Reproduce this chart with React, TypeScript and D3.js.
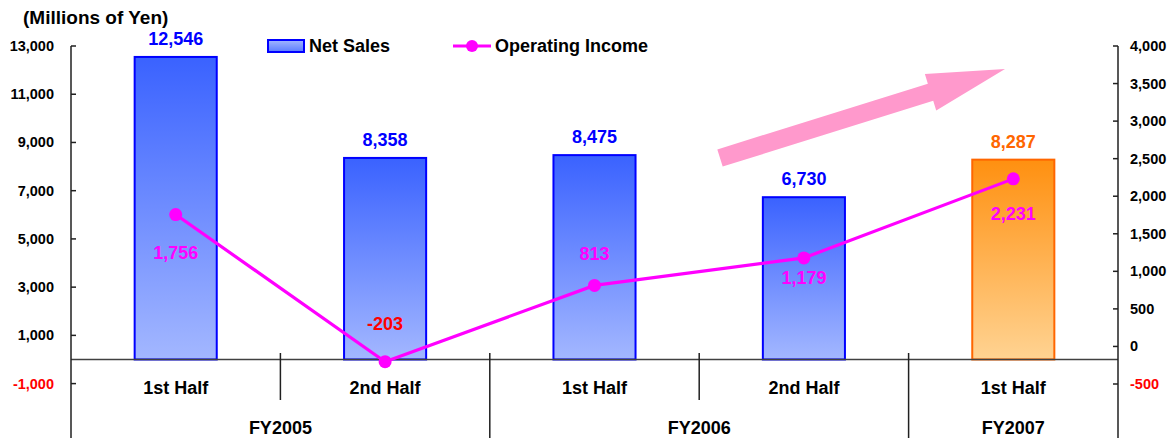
import React from "react";
import * as d3 from "d3";

const categories = ["1st Half", "2nd Half", "1st Half", "2nd Half", "1st Half"];
const fiscalYears = [
  { label: "FY2005", from: 0, to: 1 },
  { label: "FY2006", from: 2, to: 3 },
  { label: "FY2007", from: 4, to: 4 },
];
const netSales = [12546, 8358, 8475, 6730, 8287];
const operatingIncome = [1756, -203, 813, 1179, 2231];
const leftTicks = [-1000, 1000, 3000, 5000, 7000, 9000, 11000, 13000];
const rightTicks = [-500, 0, 500, 1000, 1500, 2000, 2500, 3000, 3500, 4000];

const W = 1173;
const H = 438;
const FONT = "'Liberation Sans', Arial, sans-serif";

export default function App() {
  const left = 71;
  const right = 1118;
  const top = 46;
  const bottom = 438;

  const x = d3
    .scaleBand<number>()
    .domain(d3.range(categories.length))
    .range([left, right])
    .paddingInner(0.608)
    .paddingOuter(0.304);
  const step = x.step();
  const yL = d3.scaleLinear().domain([-1000, 13000]).range([383.6, 46]);
  const yR = d3.scaleLinear().domain([-500, 4000]).range([384, 46]);
  const f0 = d3.format(",");
  const fmt = (v: number) => f0(v).replace("\u2212", "-");
  const cx = (i: number) => (x(i) as number) + x.bandwidth() / 2;
  const zeroY = yL(0);

  const line = d3
    .line<number>()
    .x((_, i) => cx(i))
    .y((d) => yR(d));

  // label offsets (relative to point) for the operating income labels
  const lineLabelDy = [38, -38, -31, 20, 35];

  // arrow annotation
  const tail: [number, number] = [720, 158];
  const tip: [number, number] = [1005, 69];
  const dx = tip[0] - tail[0];
  const dy = tip[1] - tail[1];
  const len = Math.hypot(dx, dy);
  const ux = dx / len, uy = dy / len;
  const px = -uy, py = ux;
  const headLen = 78;
  const sw = 9, hw = 19;
  const bx = tip[0] - ux * headLen, by = tip[1] - uy * headLen;
  const arrowPts = [
    [tail[0] + px * sw, tail[1] + py * sw],
    [bx + px * sw, by + py * sw],
    [bx + px * hw, by + py * hw],
    tip,
    [bx - px * hw, by - py * hw],
    [bx - px * sw, by - py * sw],
    [tail[0] - px * sw, tail[1] - py * sw],
  ]
    .map((p) => p.join(","))
    .join(" ");

  const boundaries = d3.range(1, categories.length);
  const groupStarts = new Set(fiscalYears.map((f) => f.from));

  return (
    <svg width={W} height={H} style={{ position: "absolute", left: 0, top: 0 }} fontFamily={FONT}>
      <defs>
        <linearGradient id="gBlue" x1="0" y1="0" x2="0" y2="1">
          <stop offset="0%" stopColor="#3a62ff" />
          <stop offset="100%" stopColor="#a3b7ff" />
        </linearGradient>
        <linearGradient id="gOrange" x1="0" y1="0" x2="0" y2="1">
          <stop offset="0%" stopColor="#ff9010" />
          <stop offset="100%" stopColor="#ffd392" />
        </linearGradient>
        <linearGradient id="gLegend" x1="0" y1="0" x2="0" y2="1">
          <stop offset="0%" stopColor="#a3b7ff" />
          <stop offset="100%" stopColor="#5a7cff" />
        </linearGradient>
      </defs>
      <rect width={W} height={H} fill="#fff" />

      {/* title */}
      <text x={23} y={24} fontSize={19} fontWeight="bold" fill="#000">
        (Millions of Yen)
      </text>

      {/* legend */}
      <rect x={268} y={40} width={36} height={12} fill="url(#gLegend)" stroke="#0000ff" strokeWidth={2} />
      <text x={309} y={52} fontSize={18} fontWeight="bold" fill="#000">Net Sales</text>
      <line x1={453} x2={491} y1={46} y2={46} stroke="#ff00ff" strokeWidth={3} />
      <circle cx={472} cy={46} r={6} fill="#ff00ff" />
      <text x={495} y={52} fontSize={18} fontWeight="bold" fill="#000">Operating Income</text>

      {/* bars */}
      {netSales.map((v, i) => {
        const last = i === netSales.length - 1;
        return (
          <rect
            key={"b" + i}
            x={x(i)}
            y={yL(v)}
            width={x.bandwidth()}
            height={zeroY - yL(v)}
            fill={last ? "url(#gOrange)" : "url(#gBlue)"}
            stroke={last ? "#ff6600" : "#0000ff"}
            strokeWidth={2}
          />
        );
      })}
      {netSales.map((v, i) => (
        <text
          key={"bl" + i}
          x={cx(i)}
          y={yL(v) - 12}
          textAnchor="middle"
          fontSize={18}
          fontWeight="bold"
          fill={i === netSales.length - 1 ? "#ff6600" : "#0000ff"}
        >
          {fmt(v)}
        </text>
      ))}

      {/* axes */}
      <line x1={left} x2={right} y1={zeroY} y2={zeroY} stroke="#404040" strokeWidth={1.5} />
      <line x1={left} x2={left} y1={top} y2={bottom} stroke="#202020" strokeWidth={1.5} />
      <line x1={right} x2={right} y1={top} y2={bottom} stroke="#202020" strokeWidth={1.5} />
      {leftTicks.map((t) => (
        <g key={"lt" + t}>
          <line x1={left} x2={left + 5} y1={yL(t)} y2={yL(t)} stroke="#202020" strokeWidth={1.5} />
          <text x={54} y={yL(t) + 5} textAnchor="end" fontSize={14.5} fontWeight="bold" fill={t < 0 ? "#ff0000" : "#000"}>
            {fmt(t)}
          </text>
        </g>
      ))}
      {rightTicks.map((t) => (
        <g key={"rt" + t}>
          <line x1={right - 5} x2={right} y1={yR(t)} y2={yR(t)} stroke="#202020" strokeWidth={1.5} />
          <text x={1130} y={yR(t) + 5} textAnchor="start" fontSize={14.5} fontWeight="bold" fill={t < 0 ? "#ff0000" : "#000"}>
            {fmt(t)}
          </text>
        </g>
      ))}

      {/* category separators */}
      {boundaries.map((b) => {
        const bxp = left + b * step;
        const long = groupStarts.has(b);
        return (
          <line key={"sep" + b} x1={bxp} x2={bxp} y1={353} y2={long ? bottom : 400} stroke="#202020" strokeWidth={1.5} />
        );
      })}
      {categories.map((c, i) => (
        <text key={"c" + i} x={cx(i)} y={394} textAnchor="middle" fontSize={18} fontWeight="bold" fill="#000">
          {c}
        </text>
      ))}
      {fiscalYears.map((f) => (
        <text
          key={f.label}
          x={left + ((f.from + f.to + 1) / 2) * step}
          y={434}
          textAnchor="middle"
          fontSize={18}
          fontWeight="bold"
          fill="#000"
        >
          {f.label}
        </text>
      ))}

      {/* arrow */}
      <polygon points={arrowPts} fill="#ff99cc" />

      {/* line */}
      <path d={line(operatingIncome) || ""} fill="none" stroke="#ff00ff" strokeWidth={3.2} />
      {operatingIncome.map((v, i) => (
        <circle key={"p" + i} cx={cx(i)} cy={yR(v)} r={6.5} fill="#ff00ff" />
      ))}
      {operatingIncome.map((v, i) => (
        <text
          key={"pl" + i}
          x={cx(i)}
          y={yR(v) + lineLabelDy[i] + 6}
          textAnchor="middle"
          fontSize={18}
          fontWeight="bold"
          fill={v < 0 ? "#ff0000" : "#ff00ff"}
        >
          {fmt(v)}
        </text>
      ))}
    </svg>
  );
}
